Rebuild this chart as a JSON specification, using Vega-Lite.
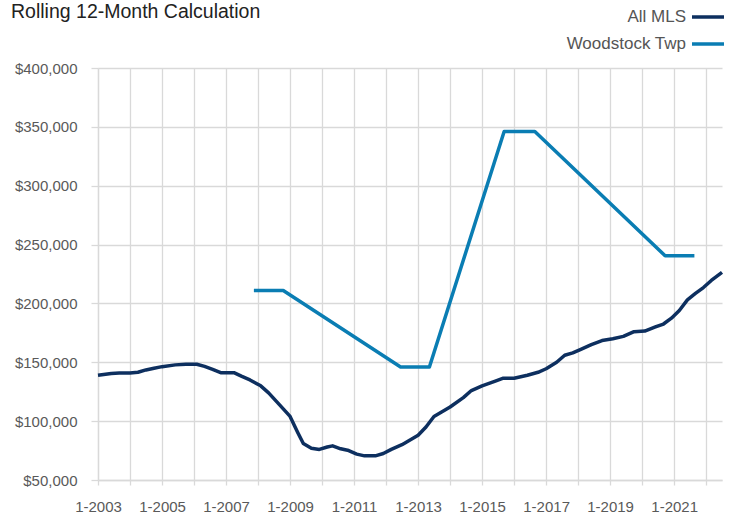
{
  "$schema": "https://vega.github.io/schema/vega-lite/v6.json",
  "width": 624,
  "height": 412,
  "autosize": {"type": "none"},
  "padding": {"left": 98, "top": 68, "right": 10, "bottom": 35},
  "background": "white",
  "title": {
    "text": "Rolling 12-Month Calculation",
    "anchor": "start",
    "frame": "group",
    "dx": -87,
    "font": "Liberation Sans",
    "fontSize": 19.5,
    "fontWeight": "normal",
    "color": "#222222",
    "baseline": "alphabetic",
    "offset": 0,
    "dy": 38
  },
  "data": {
    "values": [
      {"date": "2003-01-01", "value": 139000, "series": "All MLS"},
      {"date": "2003-06-01", "value": 140500, "series": "All MLS"},
      {"date": "2003-09-01", "value": 140800, "series": "All MLS"},
      {"date": "2004-01-01", "value": 141000, "series": "All MLS"},
      {"date": "2004-04-01", "value": 141500, "series": "All MLS"},
      {"date": "2004-07-01", "value": 143500, "series": "All MLS"},
      {"date": "2004-10-01", "value": 145000, "series": "All MLS"},
      {"date": "2005-01-01", "value": 146300, "series": "All MLS"},
      {"date": "2005-06-01", "value": 147800, "series": "All MLS"},
      {"date": "2005-10-01", "value": 148300, "series": "All MLS"},
      {"date": "2006-02-01", "value": 148300, "series": "All MLS"},
      {"date": "2006-05-01", "value": 146500, "series": "All MLS"},
      {"date": "2006-08-01", "value": 144000, "series": "All MLS"},
      {"date": "2006-11-01", "value": 141200, "series": "All MLS"},
      {"date": "2007-04-01", "value": 141200, "series": "All MLS"},
      {"date": "2007-07-01", "value": 138000, "series": "All MLS"},
      {"date": "2007-10-01", "value": 135000, "series": "All MLS"},
      {"date": "2008-02-01", "value": 130000, "series": "All MLS"},
      {"date": "2008-05-01", "value": 124000, "series": "All MLS"},
      {"date": "2008-09-01", "value": 114000, "series": "All MLS"},
      {"date": "2009-01-01", "value": 104000, "series": "All MLS"},
      {"date": "2009-04-01", "value": 90000, "series": "All MLS"},
      {"date": "2009-06-01", "value": 81000, "series": "All MLS"},
      {"date": "2009-09-01", "value": 77000, "series": "All MLS"},
      {"date": "2009-12-01", "value": 76000, "series": "All MLS"},
      {"date": "2010-03-01", "value": 78000, "series": "All MLS"},
      {"date": "2010-05-01", "value": 79000, "series": "All MLS"},
      {"date": "2010-08-01", "value": 76500, "series": "All MLS"},
      {"date": "2010-11-01", "value": 75000, "series": "All MLS"},
      {"date": "2011-02-01", "value": 72000, "series": "All MLS"},
      {"date": "2011-05-01", "value": 70500, "series": "All MLS"},
      {"date": "2011-09-01", "value": 70500, "series": "All MLS"},
      {"date": "2011-12-01", "value": 72500, "series": "All MLS"},
      {"date": "2012-03-01", "value": 76000, "series": "All MLS"},
      {"date": "2012-07-01", "value": 80000, "series": "All MLS"},
      {"date": "2012-10-01", "value": 84000, "series": "All MLS"},
      {"date": "2013-01-01", "value": 88000, "series": "All MLS"},
      {"date": "2013-04-01", "value": 95000, "series": "All MLS"},
      {"date": "2013-07-01", "value": 104000, "series": "All MLS"},
      {"date": "2013-10-01", "value": 108000, "series": "All MLS"},
      {"date": "2014-01-01", "value": 112000, "series": "All MLS"},
      {"date": "2014-06-01", "value": 120000, "series": "All MLS"},
      {"date": "2014-09-01", "value": 126000, "series": "All MLS"},
      {"date": "2015-01-01", "value": 130000, "series": "All MLS"},
      {"date": "2015-06-01", "value": 134000, "series": "All MLS"},
      {"date": "2015-09-01", "value": 136500, "series": "All MLS"},
      {"date": "2016-01-01", "value": 136500, "series": "All MLS"},
      {"date": "2016-06-01", "value": 139000, "series": "All MLS"},
      {"date": "2016-10-01", "value": 141500, "series": "All MLS"},
      {"date": "2017-01-01", "value": 144500, "series": "All MLS"},
      {"date": "2017-05-01", "value": 150000, "series": "All MLS"},
      {"date": "2017-08-01", "value": 156000, "series": "All MLS"},
      {"date": "2017-11-01", "value": 158000, "series": "All MLS"},
      {"date": "2018-02-01", "value": 161000, "series": "All MLS"},
      {"date": "2018-06-01", "value": 165000, "series": "All MLS"},
      {"date": "2018-10-01", "value": 168500, "series": "All MLS"},
      {"date": "2019-02-01", "value": 170000, "series": "All MLS"},
      {"date": "2019-06-01", "value": 172000, "series": "All MLS"},
      {"date": "2019-10-01", "value": 176000, "series": "All MLS"},
      {"date": "2020-02-01", "value": 176500, "series": "All MLS"},
      {"date": "2020-06-01", "value": 180000, "series": "All MLS"},
      {"date": "2020-09-01", "value": 182500, "series": "All MLS"},
      {"date": "2020-12-01", "value": 187500, "series": "All MLS"},
      {"date": "2021-03-01", "value": 194000, "series": "All MLS"},
      {"date": "2021-06-01", "value": 203000, "series": "All MLS"},
      {"date": "2021-09-01", "value": 208500, "series": "All MLS"},
      {"date": "2021-12-01", "value": 213500, "series": "All MLS"},
      {"date": "2022-03-01", "value": 219500, "series": "All MLS"},
      {"date": "2022-07-01", "value": 226300, "series": "All MLS"},
      {"date": "2007-11-15", "value": 211000, "series": "Woodstock Twp"},
      {"date": "2008-10-15", "value": 211000, "series": "Woodstock Twp"},
      {"date": "2012-06-15", "value": 146000, "series": "Woodstock Twp"},
      {"date": "2013-05-10", "value": 146000, "series": "Woodstock Twp"},
      {"date": "2015-09-10", "value": 346000, "series": "Woodstock Twp"},
      {"date": "2016-08-25", "value": 346000, "series": "Woodstock Twp"},
      {"date": "2020-09-20", "value": 240500, "series": "Woodstock Twp"},
      {"date": "2021-08-20", "value": 240500, "series": "Woodstock Twp"}
    ]
  },
  "mark": {"type": "line", "strokeWidth": 3.5, "strokeJoin": "round", "strokeCap": "butt"},
  "encoding": {
    "x": {
      "field": "date",
      "type": "temporal",
      "scale": {"type": "utc", "domain": ["2003-01-01", "2022-07-01"], "nice": false},
      "axis": {
        "title": null,
        "tickCount": {"interval": "year", "step": 1},
        "labelExpr": "utcyear(datum.value) % 2 == 1 ? utcFormat(datum.value, '%-m-%Y') : ''",
        "tickSize": 5,
        "labelPadding": 14,
        "labelFlush": false,
        "labelOverlap": false
      }
    },
    "y": {
      "field": "value",
      "type": "quantitative",
      "scale": {"domain": [50000, 400000], "nice": false, "zero": false},
      "axis": {
        "title": null,
        "values": [50000, 100000, 150000, 200000, 250000, 300000, 350000, 400000],
        "format": "$,.0f",
        "tickSize": 7,
        "labelPadding": 14
      }
    },
    "color": {
      "field": "series",
      "type": "nominal",
      "scale": {"domain": ["All MLS", "Woodstock Twp"], "range": ["#0d2f5f", "#0a7db3"]},
      "legend": {
        "title": null,
        "orient": "none",
        "legendX": 592,
        "legendY": -69,
        "symbolType": "stroke",
        "symbolSize": 1024,
        "symbolStrokeWidth": 3.5,
        "labelAlign": "right",
        "labelOffset": -40,
        "labelFont": "Liberation Sans",
        "labelFontSize": 17,
        "labelColor": "#555555",
        "rowPadding": 1,
        "labelLimit": 300
      }
    }
  },
  "config": {
    "view": {"stroke": null},
    "axis": {
      "grid": true,
      "gridColor": "#d9d9d9",
      "gridWidth": 1.3,
      "domainColor": "#d9d9d9",
      "domainWidth": 1.3,
      "tickColor": "#d9d9d9",
      "tickWidth": 1.3,
      "labelColor": "#595959",
      "labelFont": "Liberation Sans",
      "labelFontSize": 15
    }
  }
}
